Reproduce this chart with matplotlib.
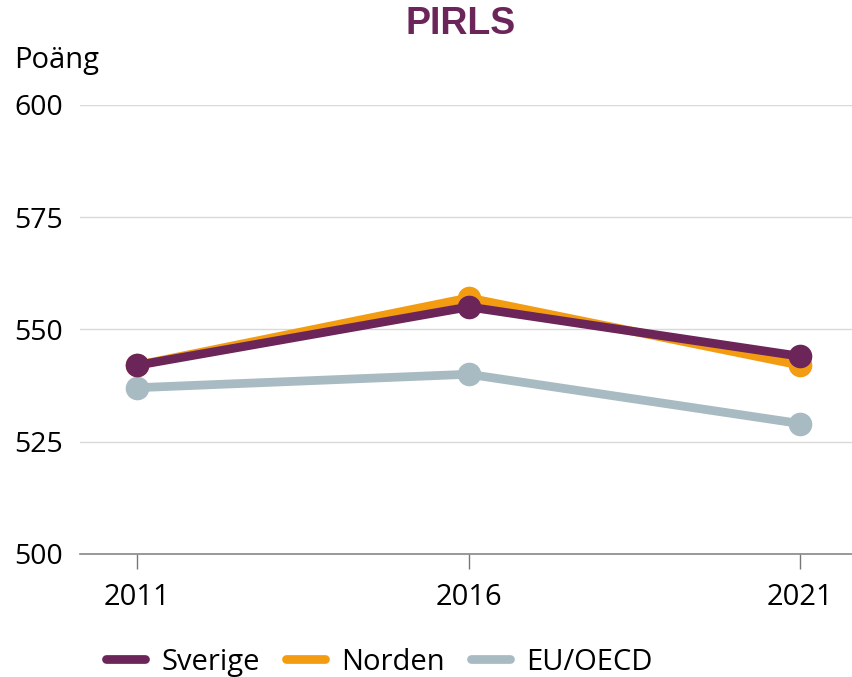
import matplotlib as mpl
import numpy as np
from matplotlib import pyplot as plt
from matplotlib.lines import Line2D

mpl.rcParams['font.family'] = ['Open Sans', 'DejaVu Sans']

years = [2011, 2016, 2021]
sverige = [542, 555, 544]
norden = [542, 557, 542]
eu_oecd = [537, 540, 529]

series = [
    ("EU/OECD", eu_oecd, '#A8BBC2'),
    ("Norden", norden, '#F39C12'),
    ("Sverige", sverige, '#6B2558'),
]
legend_order = ["Sverige", "Norden", "EU/OECD"]
yticks = [500, 525, 550, 575, 600]

fig = plt.figure(figsize=(8.52, 6.77), dpi=100)
ax = fig.add_axes([0.094, 0.182, 0.906, 0.663])

for label, vals, color in series:
    ax.plot(years, vals, color=color, linewidth=6.3, marker='o', markersize=16,
            solid_capstyle='round', label=label, zorder=3)

ax.set_xlim(2010.14, 2021.78)
ax.set_ylim(500, 600)
ax.set_yticks(yticks)
ax.set_xticks(years)
ax.tick_params(axis='y', length=0, labelsize=20.5, pad=12)
ax.tick_params(axis='x', length=11, width=1, color='#777777', labelsize=21, pad=10)
ax.grid(axis='y', color='#d9d9d9', linewidth=1)
for s in ['top', 'right', 'left']:
    ax.spines[s].set_visible(False)
ax.spines['bottom'].set_color('#888888')
ax.spines['bottom'].set_linewidth(1.2)
ax.set_axisbelow(True)

fig.text(0.541, 0.965, "PIRLS", ha='center', va='center', fontsize=27,
         fontweight='bold', color='#6B2558', family='Liberation Sans')
fig.text(0.016, 0.91, "Poäng", ha='left', va='center', fontsize=21)

colors = {label: color for label, vals, color in series}
handles = [Line2D([0], [0], color=colors[l], linewidth=6.3, solid_capstyle='round')
           for l in legend_order]
fig.legend(handles, legend_order, loc='center left', bbox_to_anchor=(0.124, 0.022),
           ncol=3, frameon=False, fontsize=21, handlelength=1.35,
           handletextpad=0.55, columnspacing=0.9, borderaxespad=0, borderpad=0)

fig.savefig('out.png', dpi=100)
